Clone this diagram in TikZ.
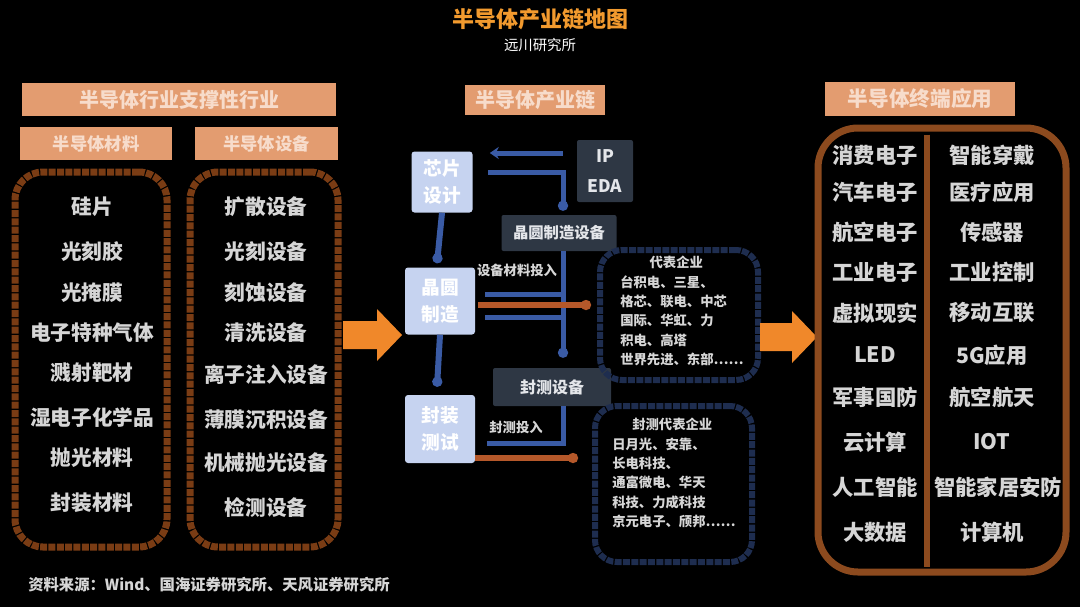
\documentclass[tikz,border=0pt]{standalone}
\usepackage{fontspec}
\setmainfont{Noto Sans CJK SC}
\usetikzlibrary{calc,arrows.meta}
\definecolor{hdrfill}{HTML}{E39C70}
\definecolor{hdrtext}{HTML}{F7DCCB}
\definecolor{titleor}{HTML}{F29A2E}
\definecolor{arrowor}{HTML}{F0882A}
\definecolor{brownA}{HTML}{7A3C14}
\definecolor{brownB}{HTML}{8C4A1E}
\definecolor{itemgray}{HTML}{D6D6D6}
\definecolor{lightblue}{HTML}{C6D3F0}
\definecolor{darkbx}{HTML}{2E3744}
\definecolor{boxtext}{HTML}{E4E6EA}
\definecolor{blueline}{HTML}{3A5BA5}
\definecolor{orline}{HTML}{B5582A}
\definecolor{listborder}{HTML}{1E2D4F}
\begin{document}
\begin{tikzpicture}[x=0.75pt,y=-0.75pt,
  hdr/.style={fill=hdrfill, text=hdrtext, inner sep=0, font=\bfseries\fontsize{15}{17}\selectfont},
  item/.style={text=itemgray, font=\bfseries\fontsize{15.5}{18}\selectfont, inner sep=0},
  app/.style={text=itemgray, font=\bfseries\fontsize{16}{19}\selectfont, inner sep=0},
  grp/.style={draw=brownA, line width=5.25pt, rounded corners=21pt, dash pattern=on 5.25pt off 1pt, inner sep=0},
  stage/.style={fill=lightblue, rounded corners=2.25pt, text=white, font=\bfseries\fontsize{14}{20}\selectfont, align=center, inner sep=0},
  darkbox/.style={fill=darkbx, text=boxtext, rounded corners=1.5pt, font=\bfseries\fontsize{11.5}{14}\selectfont, inner sep=0},
  bl/.style={draw=blueline, line width=3.75pt},
  ol/.style={draw=orline, line width=4.5pt},
  dot/.style={-{Circle[length=7.5pt]}},
  listbox/.style={draw=listborder, line width=4.5pt, rounded corners=16.5pt, inner sep=0, dash pattern=on 5.25pt off 1pt},
  listtxt/.style={text=itemgray, font=\bfseries\fontsize{10}{14.5}\selectfont, align=left, anchor=north west, inner sep=0},
  lbl/.style={text=itemgray, font=\bfseries\fontsize{10}{12}\selectfont, inner sep=0},
  bigarrow/.style={fill=arrowor}]
\fill[black] (0,0) rectangle (1080,607);
\useasboundingbox (0,0) rectangle (1080,607);

% title
\node[text=titleor, font=\bfseries\fontsize{16.5}{19}\selectfont] (title) at (540,19) {半导体产业链地图};
\node[text=white, font=\fontsize{10.8}{13}\selectfont] (subtitle) at (540,45) {远川研究所};

% left section
\node[hdr, minimum width=235.5pt, minimum height=24.75pt] (hdrL) at (179,99.5) {半导体行业支撑性行业};
\node[hdr, minimum width=114pt, minimum height=24.75pt, font=\bfseries\fontsize{13}{15}\selectfont] (subA) at (96,143.5) {半导体材料};
\node[hdr, minimum width=107.25pt, minimum height=24.75pt, font=\bfseries\fontsize{13}{15}\selectfont] (subB) at (266.5,143.5) {半导体设备};
\node[grp, minimum width=114pt, minimum height=281.25pt] (boxA) at (91,359.5) {};
\node[grp, minimum width=111pt, minimum height=281.25pt] (boxB) at (264,359.5) {};

\node[item] (a1) at (92,207) {硅片};
\node[item] (a2) at (92,252) {光刻胶};
\node[item] (a3) at (92,293) {光掩膜};
\node[item] (a4) at (92,333) {电子特种气体};
\node[item] (a5) at (92,373) {溅射靶材};
\node[item] (a6) at (92,418) {湿电子化学品};
\node[item] (a7) at (92,458) {抛光材料};
\node[item] (a8) at (92,503) {封装材料};

\node[item] (b1) at (266,207) {扩散设备};
\node[item] (b2) at (266,252) {光刻设备};
\node[item] (b3) at (266,293) {刻蚀设备};
\node[item] (b4) at (266,333) {清洗设备};
\node[item] (b5) at (266,375) {离子注入设备};
\node[item] (b6) at (266,420) {薄膜沉积设备};
\node[item] (b7) at (266,463) {机械抛光设备};
\node[item] (b8) at (266,508) {检测设备};

\fill[bigarrow] (343,321) -- (377,321) -- (377,309) -- (402,335) -- (377,361) -- (377,349) -- (343,349) -- cycle;

% middle section
\node[hdr, minimum width=105pt, minimum height=22.5pt, font=\bfseries\fontsize{15}{17}\selectfont] (hdrM) at (535,100) {半导体产业链};
\node[stage, minimum width=45.75pt, minimum height=45.75pt] (design) at (442,182) {芯片\\设计};
\node[stage, minimum width=52.5pt, minimum height=50.25pt] (fab) at (440,301) {晶圆\\制造};
\node[stage, minimum width=52.5pt, minimum height=51pt] (pkg) at (440,429) {封装\\测试};
\node[darkbox, minimum width=42pt, minimum height=46.5pt, align=center, font=\bfseries\fontsize{13}{22}\selectfont] (ipeda) at (605,171) {IP\\EDA};
\node[darkbox, minimum width=86.25pt, minimum height=27pt] (D1) at (559,233) {晶圆制造设备};
\node[darkbox, minimum width=88.5pt, minimum height=28.5pt, font=\bfseries\fontsize{12}{14}\selectfont] (D2) at (552,387) {封测设备};
\node[lbl] (L1) at (517,270) {设备材料投入};
\node[lbl] (L2) at (516,427) {封测投入};

\node[listbox, minimum width=118.5pt, minimum height=97.5pt] (B1) at (679,315) {};
\node[listbox, minimum width=117.75pt, minimum height=117pt] (B2) at (673.5,484) {};
\node[listtxt] (t1) at (620,256) {\hspace*{2.2em}代表企业\\台积电、三星、\\格芯、联电、中芯\\国际、华虹、力\\积电、高塔\\世界先进、东部……};
\node[listtxt] (t2) at (612,418) {\hspace*{1.5em}封测代表企业\\日月光、安靠、\\长电科技、\\通富微电、华天\\科技、力成科技\\京元电子、颀邦……};

% connectors
\draw[bl, line width=4.5pt, dot] (design.south) -- ($(fab.north)+(-3,-4)$);
\draw[bl, line width=4.5pt, dot] (fab.south) -- ($(pkg.north)+(-3,-8)$);
\draw[bl, -{Stealth[length=6.75pt,width=9pt]}] ($(ipeda.west)+(-14,-18)$) -- ($(design.east)+(17,-29)$);
\draw[bl, dot] ($(design.east)+(15,-10)$) -| ($(D1.north)+(4,-4)$);
\draw[bl, dot] ($(D1.south)+(4,0)$) -- ($(D2.north)+(11,-10)$);
\draw[bl] ($(fab.east)+(10,-7)$) -- ($(fab.east)+(87,-7)$);
\draw[bl] ($(fab.east)+(10,16)$) -- ($(fab.east)+(87,16)$);
\draw[ol, dot] ($(fab.east)+(3,4)$) -- ($(B1.west)+(-6,-10)$);
\draw[bl] ($(D2.south)+(11,0)$) |- ($(pkg.east)+(12,14)$);
\draw[ol, dot] ($(pkg.east)+(0,29)$) -- ($(B2.west)+(-14,-26)$);

\fill[bigarrow] (760,323) -- (792,323) -- (792,311) -- (817,337) -- (792,363) -- (792,351) -- (760,351) -- cycle;

% right section
\node[hdr, minimum width=142.5pt, minimum height=25.5pt, font=\bfseries\fontsize{15.5}{17}\selectfont] (hdrR) at (920,99) {半导体终端应用};
\node[draw=brownB, line width=5.25pt, rounded corners=30pt, minimum width=186pt, minimum height=333pt, inner sep=0] (appbox) at (942,350) {};
\draw[draw=brownB, line width=4.5pt] ($(appbox.north)+(-15,10)$) coordinate (dv1) -- ($(appbox.south)+(-15,-9)$) coordinate (dv2);

\node[app] (c1) at (875,155) {消费电子};
\node[app] (c2) at (875,192) {汽车电子};
\node[app] (c3) at (875,232) {航空电子};
\node[app] (c4) at (875,272) {工业电子};
\node[app] (c5) at (875,313) {虚拟现实};
\node[app] (c6) at (875,355) {LED};
\node[app] (c7) at (875,397) {军事国防};
\node[app] (c8) at (875,442) {云计算};
\node[app] (c9) at (875,487) {人工智能};
\node[app] (c10) at (875,532) {大数据};

\node[app] (d1) at (992,155) {智能穿戴};
\node[app] (d2) at (992,192) {医疗应用};
\node[app] (d3) at (992,232) {传感器};
\node[app] (d4) at (992,272) {工业控制};
\node[app] (d5) at (992,313) {移动互联};
\node[app] (d6) at (992,355) {5G应用};
\node[app] (d7) at (992,397) {航空航天};
\node[app] (d8) at (992,442) {IOT};
\node[app] (d9) at (998,487) {智能家居安防};
\node[app] (d10) at (992,532) {计算机};

% source
\node[anchor=west, text=itemgray, font=\bfseries\fontsize{11.5}{14}\selectfont, inner sep=0] (src) at (28,585) {资料来源：Wind、国海证券研究所、天风证券研究所};
\end{tikzpicture}
\end{document}
